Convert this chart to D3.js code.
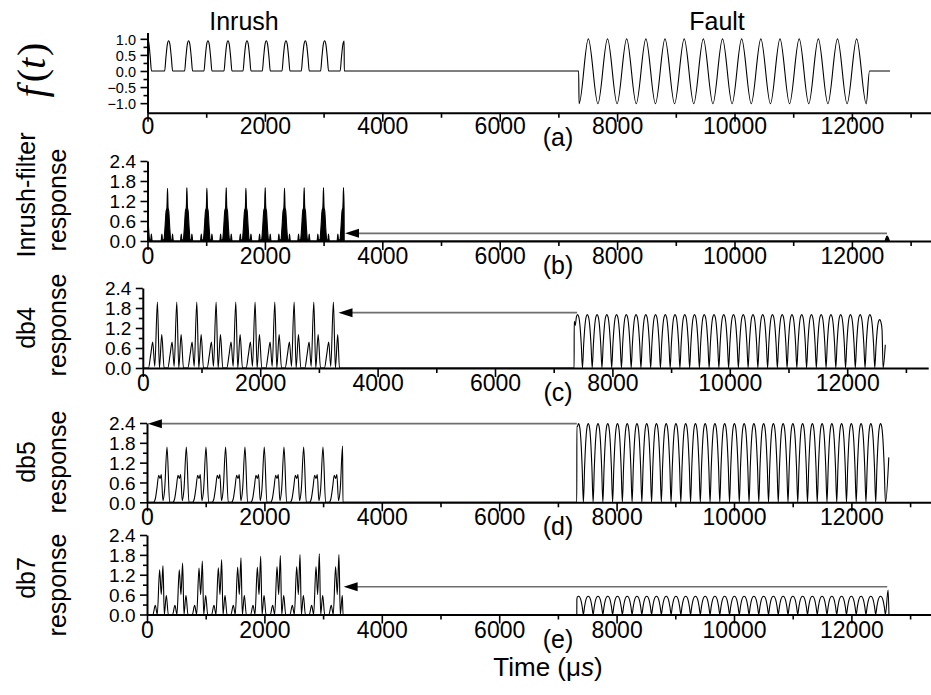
<!DOCTYPE html>
<html>
<head>
<meta charset="utf-8">
<script src="https://cdn.jsdelivr.net/npm/d3@7/dist/d3.min.js"></script>
<style>
html,body{margin:0;padding:0;background:#fff;}
svg{display:block;}
text{font-family:"Liberation Sans",Arial,Helvetica,sans-serif;fill:#000;}
</style>
</head>
<body>
<svg id="chart" width="931" height="695"></svg>
<script>
// ================= DATA =================
const xMajorTicks = [0, 2000, 4000, 6000, 8000, 10000, 12000];
const xMinorTicks = [1000, 3000, 5000, 7000, 9000, 11000, 13000];
const yTicksA = [-1.0, -0.5, 0.0, 0.5, 1.0];
const yMinorA = [-0.75, -0.25, 0.25, 0.75];
const yTicksR = [0.0, 0.6, 1.2, 1.8, 2.4];
const yMinorR = [0.3, 0.9, 1.5, 2.1];
const regionLabels = ["Inrush", "Fault"];
const panelLabels = ["(a)", "(b)", "(c)", "(d)", "(e)"];
const yTitles = [["f(t)"], ["Inrush-filter", "response"], ["db4", "response"], ["db5", "response"], ["db7", "response"]];

// (a) f(t): inrush pulses and fault sinusoid
const aPulseTimes  = [0, 360, 700, 1030, 1371, 1695, 2024, 2359, 2688, 3017, 3350];
const aPulseValues = [1.0, 0.94, 0.94, 0.94, 0.94, 0.94, 0.94, 0.94, 0.94, 0.94, 0.93];
const aPulseShape  = [[-68, 0], [-46, 0.45], [-22, 0.88], [0, 1], [22, 0.88], [46, 0.45], [68, 0]];
const aInrushEnd = 3352;
const aFaultPoints = [[7345, 0], [7352, -1.02], [7510, 1.0], [7673, -1.02], [7837, 1.0], [8000, -1.02], [8163, 1.0],
  [8326, -1.02], [8490, 1.0], [8653, -1.02], [8816, 1.0], [8979, -1.02], [9143, 1.0], [9306, -1.02], [9469, 1.0],
  [9632, -1.02], [9796, 1.0], [9959, -1.02], [10122, 1.0], [10285, -1.02], [10449, 1.0], [10612, -1.02], [10775, 1.0],
  [10938, -1.02], [11102, 1.0], [11265, -1.02], [11428, 1.0], [11591, -1.02], [11755, 1.0], [11918, -1.02], [12081, 1.0],
  [12244, -1.02], [12300, 0], [12650, 0]];

// (b) inrush-filter response
const bSpikeTimes  = [-20, 341, 671, 1012, 1341, 1677, 2005, 2334, 2669, 2998, 3339];
const bSpikeValues = [1.6, 1.58, 1.6, 1.59, 1.6, 1.59, 1.6, 1.59, 1.6, 1.6, 1.6];
const bSpikeShape  = [[-110, 0], [-95, 0.13], [-85, 0.01], [-60, 0.03], [-45, 0.22], [-25, 0.56], [-10, 0.63], [0, 1],
  [10, 0.63], [22, 0.56], [40, 0.22], [55, 0.03], [75, 0.01], [85, 0.13], [100, 0]];
const bInrushEnd = 3352;
const bTailPoints = [[12560, 0], [12598, 0.15], [12640, 0]];

// (c) db4 response
const cCycleTimes = [249, 579, 920, 1249, 1584, 1913, 2249, 2578, 2913, 3247];
const cPeak = [1.98, 1.98, 1.98, 1.98, 1.98, 1.98, 1.98, 1.98, 1.98, 1.98];
const cCycleShape = [[-153, 0], [-114, 0.4], [-80, 0.78], [-45, 0.05], [0, "P"], [34, 0], [74, 1.0], [114, 0]];
const cInrushEnd = 3350;
const cFaultStart = 7348, cFaultStartValue = 1.4;
const cHumpTimes = [7407, 7573, 7739, 7905, 8071, 8237, 8403, 8569, 8735, 8901, 9067, 9233, 9399, 9565, 9731, 9897,
  10063, 10229, 10395, 10561, 10727, 10893, 11059, 11225, 11391, 11557, 11723, 11889, 12055, 12221, 12387, 12553];
const cHumpValues = [1.6, 1.6, 1.6, 1.6, 1.6, 1.6, 1.6, 1.6, 1.6, 1.6, 1.6, 1.6, 1.6, 1.6, 1.6, 1.6,
  1.6, 1.6, 1.6, 1.6, 1.6, 1.6, 1.6, 1.6, 1.6, 1.6, 1.6, 1.6, 1.6, 1.6, 1.6, 1.45];
const cFaultTail = [[12612, 0], [12649, 0.7]];

// (d) db5 response
const dCycleTimes = [341, 670, 1005, 1339, 1669, 1998, 2334, 2669, 2998, 3332];
const dPeak = [1.67, 1.67, 1.67, 1.67, 1.67, 1.67, 1.67, 1.67, 1.67, 1.7];
const dCycleShape = [[-230, 0], [-200, 0.1], [-170, 0.45], [-142, 0.82], [-119, 0.72], [-97, 0.84], [-70, 0.05],
  [-40, 0.4], [0, "P"], [45, 0]];
const dInrushEnd = 3338;
const dFaultStart = 7322, dFaultStartValue = 2.3;
const dHumpTimes = [7351, 7517, 7683, 7849, 8015, 8181, 8347, 8513, 8679, 8845, 9011, 9177, 9343, 9509, 9675, 9841,
  10007, 10173, 10339, 10505, 10671, 10837, 11003, 11169, 11335, 11501, 11667, 11833, 11999, 12165, 12331, 12497];
const dHumpValues = [2.38, 2.38, 2.38, 2.38, 2.38, 2.38, 2.38, 2.38, 2.38, 2.38, 2.38, 2.38, 2.38, 2.38, 2.38, 2.38,
  2.38, 2.38, 2.38, 2.38, 2.38, 2.38, 2.38, 2.38, 2.38, 2.38, 2.38, 2.38, 2.38, 2.38, 2.38, 2.38];
const dFaultTail = [[12582, 0], [12637, 1.36]];

// (e) db7 response
const eCycleTimes = [215, 550, 886, 1215, 1544, 1880, 2215, 2550, 2879, 3213];
const ePeak1 = [1.35, 1.35, 1.40, 1.41, 1.43, 1.43, 1.45, 1.45, 1.45, 1.45];
const ePeak2 = [1.48, 1.55, 1.61, 1.66, 1.71, 1.76, 1.78, 1.81, 1.83, 1.81];
const eCycleShape = [[-114, 0], [-74, 0.28], [-40, 0], [0, "P1"], [28, 0.6], [57, "P2"], [80, 0], [114, 0.58], [148, 0]];
const eInrushEnd = 3340;
const eFaultStart = 7322, eFaultStartValue = 0.45;
const eHumpTimes = dHumpTimes;
const eHumpValues = [0.55, 0.55, 0.55, 0.55, 0.55, 0.55, 0.55, 0.55, 0.55, 0.55, 0.55, 0.55, 0.55, 0.55, 0.55, 0.55,
  0.55, 0.55, 0.55, 0.55, 0.55, 0.55, 0.55, 0.55, 0.55, 0.55, 0.55, 0.55, 0.55, 0.55, 0.55, 0.55];
const eFaultTail = [[12580, 0], [12625, 0.74], [12640, 0]];

const humpShape = [[-83, 0], [-62, 0.45], [-40, 0.8], [-20, 0.96], [0, 1], [20, 0.96], [40, 0.8], [62, 0.45], [83, 0]];

// arrows (panels b..e): level, from-time, to-time (tip)
const arrowPanel = [1, 2, 3, 4];
const arrowLevel = [0.23, 1.66, 2.38, 0.84];
const arrowFrom  = [12598, 7399, 7322, 12610];
const arrowTo    = [3365, 3334, 15, 3350];

// ================= LAYOUT =================
const X0 = 147.5, PXU = 0.0587, XMAX = 13380;
const layout = [
  { yDomain: [-1.3, 1.2], top: 32.4, bottom: 112.8, shift: 0, yt: yTicksA, ym: yMinorA, yfs: 14.5 },
  { yDomain: [0, 2.4], top: 161, bottom: 241, shift: 0, yt: yTicksR, ym: yMinorR, yfs: 19 },
  { yDomain: [0, 2.4], top: 288, bottom: 368, shift: -4.7, yt: yTicksR, ym: yMinorR, yfs: 19 },
  { yDomain: [0, 2.4], top: 423, bottom: 502.3, shift: -0.5, yt: yTicksR, ym: yMinorR, yfs: 19 },
  { yDomain: [0, 2.4], top: 535, bottom: 614.5, shift: -0.5, yt: yTicksR, ym: yMinorR, yfs: 19 }
];

const svg = d3.select("#chart");

// ================= HELPERS =================
function buildCycles(times, peaks, shape, tMin, tMax) {
  const pts = [];
  times.forEach((t0, i) => {
    shape.forEach(([dt, v]) => {
      const val = (typeof v === "string") ? peaks[v][i] : v;
      const t = t0 + dt;
      if (t >= tMin && t <= tMax) pts.push([t, val]);
    });
  });
  return pts;
}
function buildScaled(times, values, shape, tMin, tMax) {
  const pts = [];
  times.forEach((t0, i) => {
    shape.forEach(([dt, f]) => {
      const t = t0 + dt;
      if (t >= tMin && t <= tMax) pts.push([t, f * values[i]]);
    });
  });
  return pts;
}
function merge(...parts) {
  const out = [];
  parts.flat().forEach(p => {
    if (!out.length || p[0] > out[out.length - 1][0] + 0.5) out.push(p);
  });
  return out;
}

// ================= SERIES =================
const seriesA = merge(
  buildScaled(aPulseTimes, aPulseValues, aPulseShape, 0, aInrushEnd - 1),
  [[aInrushEnd, 0]],
  aFaultPoints
);
const seriesB = merge(
  buildScaled(bSpikeTimes, bSpikeValues, bSpikeShape, 0, bInrushEnd - 1),
  [[bInrushEnd, 0]],
  bTailPoints
);
const seriesC = merge(
  [[0, 0]],
  buildCycles(cCycleTimes, { P: cPeak }, cCycleShape, 0, cInrushEnd - 4),
  [[cInrushEnd, 0]],
  [[cFaultStart, 0], [cFaultStart + 1, cFaultStartValue]],
  buildScaled(cHumpTimes, cHumpValues, humpShape, cFaultStart + 2, 12600),
  cFaultTail
);
const seriesD = merge(
  [[0, 0]],
  buildCycles(dCycleTimes, { P: dPeak }, dCycleShape, 0, dInrushEnd - 3),
  [[dInrushEnd, 0]],
  [[dFaultStart, 0], [dFaultStart + 1, dFaultStartValue]],
  buildScaled(dHumpTimes, dHumpValues, humpShape, dFaultStart + 2, 12580),
  dFaultTail
);
const seriesE = merge(
  [[0, 0]],
  buildCycles(eCycleTimes, { P1: ePeak1, P2: ePeak2 }, eCycleShape, 0, eInrushEnd - 3),
  [[eInrushEnd, 0]],
  [[eFaultStart, 0], [eFaultStart + 1, eFaultStartValue]],
  buildScaled(eHumpTimes, eHumpValues, humpShape, eFaultStart + 2, 12579),
  eFaultTail
);
const allSeries = [seriesA, seriesB, seriesC, seriesD, seriesE];

// ================= AXES =================
layout.forEach((L, i) => {
  L.x = d3.scaleLinear().domain([0, XMAX]).range([X0 + L.shift, X0 + L.shift + PXU * XMAX]);
  L.y = d3.scaleLinear().domain(L.yDomain).range([L.bottom, L.top]);
  const g = svg.append("g").attr("class", "panel");

  g.append("g").attr("transform", `translate(0,${L.bottom})`)
    .call(d3.axisBottom(L.x).tickValues(xMinorTicks).tickSize(5).tickSizeOuter(0).tickFormat(""))
    .call(s => s.select(".domain").remove());
  const gx = g.append("g").attr("transform", `translate(0,${L.bottom})`)
    .call(d3.axisBottom(L.x).tickValues(xMajorTicks).tickSize(9).tickSizeOuter(0).tickFormat(d3.format("d")));
  gx.selectAll(".tick text").attr("y", i === 0 ? 21 : 23).attr("dy", 0).style("font-size", "23px");
  g.append("g").attr("transform", `translate(${L.x(0)},0)`)
    .call(d3.axisLeft(L.y).tickValues(L.ym).tickSize(4).tickSizeOuter(0).tickFormat(""))
    .call(s => s.select(".domain").remove());
  const gy = g.append("g").attr("transform", `translate(${L.x(0)},0)`)
    .call(d3.axisLeft(L.y).tickValues(L.yt).tickSize(7).tickSizeOuter(0).tickPadding(4.5).tickFormat(d3.format(".1f")));
  gy.selectAll(".tick text").style("font-size", L.yfs + "px").attr("dy", "0.36em");

  g.selectAll(".domain").attr("stroke", "#000").attr("stroke-width", 2);
  g.selectAll(".tick line").attr("stroke", "#000").attr("stroke-width", 1.6);
  g.selectAll(".tick text").attr("fill", "#000").style("font-family", '"Liberation Sans", Arial, sans-serif');

  svg.append("text").attr("x", 558).attr("y", L.bottom + 33).attr("text-anchor", "middle")
    .style("font-size", "25px").text(panelLabels[i]);
});

// ================= SERIES DRAW =================
allSeries.forEach((s, i) => {
  const L = layout[i];
  const line = d3.line().x(d => L.x(d[0])).y(d => L.y(d[1])).curve(d3.curveMonotoneX);
  if (i === 1) {
    const area = d3.area().x(d => L.x(d[0])).y0(L.y(0)).y1(d => L.y(d[1])).curve(d3.curveMonotoneX);
    svg.append("path").datum(s).attr("d", area).attr("fill", "#000");
  }
  svg.append("path").datum(s).attr("d", line).attr("fill", "none").attr("stroke", "#000")
    .attr("stroke-width", 1.1).attr("stroke-linejoin", "round");
});

// ================= ARROWS =================
arrowPanel.forEach((pi, k) => {
  const L = layout[pi];
  const yy = L.y(arrowLevel[k]);
  const x1 = L.x(arrowFrom[k]), x2 = L.x(arrowTo[k]);
  svg.append("line").attr("x1", x1).attr("x2", x2 + 10).attr("y1", yy).attr("y2", yy)
    .attr("stroke", "#6e6e6e").attr("stroke-width", 1.6);
  svg.append("path").attr("d", `M${x2},${yy}L${x2 + 14},${yy - 4.5}L${x2 + 14},${yy + 4.5}Z`).attr("fill", "#000");
});

// ================= TEXT =================
svg.append("text").attr("x", 244).attr("y", 30).attr("text-anchor", "middle").style("font-size", "25px").text(regionLabels[0]);
svg.append("text").attr("x", 717).attr("y", 30).attr("text-anchor", "middle").style("font-size", "25px").text(regionLabels[1]);

const ft = svg.append("text").attr("transform", "translate(45,70) rotate(-90)").attr("text-anchor", "middle")
  .style("font-family", '"Liberation Serif","DejaVu Serif",serif').style("font-size", "40px");
ft.append("tspan").style("font-style", "italic").text("f");
ft.append("tspan").attr("dx", 4).text("(");
ft.append("tspan").style("font-style", "italic").text("t");
ft.append("tspan").attr("dx", 2).text(")");

const titlePos = [null, [195, 200], [328, 325], [462, 462], [578, 585]];
for (let i = 1; i < 5; i++) {
  svg.append("text").attr("transform", `translate(35,${titlePos[i][0]}) rotate(-90)`).attr("text-anchor", "middle")
    .style("font-size", "25px").text(yTitles[i][0]);
  svg.append("text").attr("transform", `translate(66,${titlePos[i][1]}) rotate(-90)`).attr("text-anchor", "middle")
    .style("font-size", "25px").text(yTitles[i][1]);
}

const xt = svg.append("text").attr("x", 548).attr("y", 676).attr("text-anchor", "middle").style("font-size", "26px");
xt.append("tspan").text("Time (μ");
xt.append("tspan").style("font-style", "italic").text("s");
xt.append("tspan").text(")");
</script>
</body>
</html>
